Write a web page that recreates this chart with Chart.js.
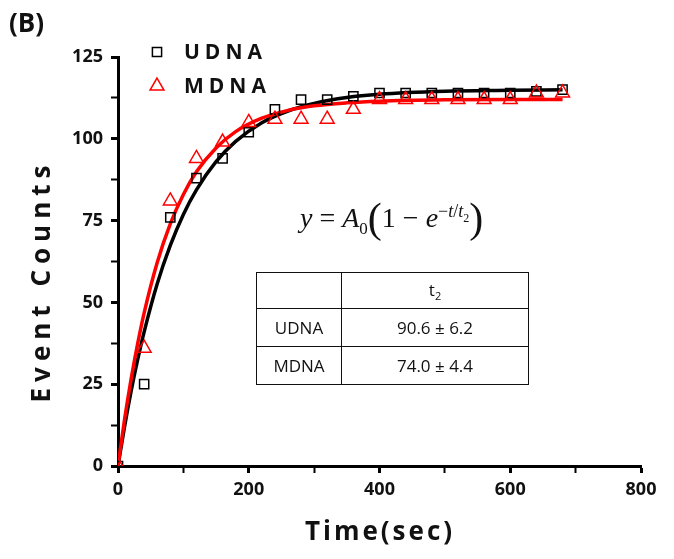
<!DOCTYPE html>
<html>
<head>
  <title>Event Counts vs Time</title>
  <script src="https://cdn.jsdelivr.net/npm/chart.js"></script>
  <style>
    body { margin: 0; background: #fff; }
    #wrap { position: relative; width: 674px; height: 559px; font-family: "Open Sans", sans-serif; }
    .lbl { position: absolute; font-weight: bold; color: #111; white-space: nowrap; }
    #eq { position: absolute; left: 300px; top: 194px; font-family: "Liberation Serif", serif; font-size: 28px; color: #111; white-space: nowrap; }
    #eq .big { font-size: 42px; vertical-align: -5px; }
    #tbl { position: absolute; left: 256px; top: 272px; border-collapse: collapse; font-size: 17px; color: #111; }
    #tbl td { border: 1.5px solid #111; text-align: center; padding: 0; }
  </style>
</head>
<body>
<div id="wrap">
  <canvas id="myChart" width="674" height="559"></canvas>
  <div class="lbl" style="left:9px;top:4px;font-size:26px;">(B)</div>
  <div class="lbl" style="left:40px;top:281px;font-size:26px;letter-spacing:6px;transform:translate(-50%,-50%) rotate(-90deg);">Event Counts</div>
  <div class="lbl" style="left:380px;top:530px;font-size:26px;letter-spacing:3px;transform:translate(-50%,-50%);">Time(sec)</div>
  <div id="eq"><i>y</i> = <i>A</i><sub style="font-size:17px">0</sub><span class="big">(</span>1 &minus; <i>e</i><sup style="font-size:18px">&minus;<i>t</i>/<i>t</i><sub style="font-size:12px">2</sub></sup><span class="big">)</span></div>
  <table id="tbl">
    <tr style="height:36px"><td style="width:84px"></td><td style="width:186px">t<sub style="font-size:11px">2</sub></td></tr>
    <tr style="height:38px"><td>UDNA</td><td>90.6 ± 6.2</td></tr>
    <tr style="height:38px"><td>MDNA</td><td>74.0 ± 4.4</td></tr>
  </table>
</div>

<script>
  const times = [0, 40, 80, 120, 160, 200, 240, 280, 320, 360, 400, 440, 480, 520, 560, 600, 640, 680];
  const udna = [0, 25, 76, 88, 94, 102, 109, 112, 112, 113, 114, 114, 114, 114, 114, 114, 114.5, 115];
  const mdna = [0, 36, 81, 94, 99, 105, 106, 106, 106, 109, 112, 112, 112, 112, 112, 112, 114, 114];

  // fitted curves
  const fitTimes = [0, 10, 20, 30, 40, 60, 80, 100, 120, 150, 180, 220, 260, 300, 350, 400, 500, 600, 680];
  const udnaFit = [0, 12.0, 22.8, 32.4, 41.0, 55.7, 67.4, 76.9, 84.4, 93.0, 99.2, 104.9, 108.5, 110.8, 112.6, 113.6, 114.5, 114.8, 115.0];
  const mdnaFit = [0, 14.2, 26.5, 37.3, 46.8, 62.2, 74.0, 83.0, 89.9, 97.2, 102.2, 106.3, 108.7, 110.1, 111.0, 111.5, 111.9, 112.0, 112.0];

  const xTicks = [0, 200, 400, 600, 800];
  const yTicks = [0, 25, 50, 75, 100, 125];

  const pts = (xs, ys) => xs.map((x, i) => ({ x: x, y: ys[i] }));

  const legendPlugin = {
    id: 'innerLegend',
    afterDraw(chart) {
      const ctx = chart.ctx;
      const items = [
        { ds: chart.data.datasets[2], y: 52 },
        { ds: chart.data.datasets[3], y: 86 }
      ];
      ctx.save();
      items.forEach(it => {
        ctx.strokeStyle = it.ds.borderColor;
        ctx.fillStyle = 'rgba(0,0,0,0)';
        ctx.lineWidth = it.ds.borderWidth;
        Chart.helpers.drawPoint(ctx, {
          pointStyle: it.ds.pointStyle, radius: it.ds.pointRadius, borderWidth: it.ds.borderWidth, rotation: 0
        }, 157, it.y);
        ctx.fillStyle = '#111';
        ctx.font = 'bold 21px "Open Sans"';
        ctx.letterSpacing = '5px';
        ctx.textBaseline = 'middle';
        ctx.fillText(it.ds.label, 184, it.y + 1);
      });
      ctx.restore();
    }
  };

  const ctx = document.getElementById('myChart').getContext('2d');
  const myChart = new Chart(ctx, {
    type: 'scatter',
    data: {
      datasets: [
        {
          label: 'UDNA fit', type: 'line', data: pts(fitTimes, udnaFit),
          borderColor: '#000', borderWidth: 3.5, pointRadius: 0, cubicInterpolationMode: 'monotone', order: 4
        },
        {
          label: 'MDNA fit', type: 'line', data: pts(fitTimes, mdnaFit),
          borderColor: '#ff0000', borderWidth: 3.5, pointRadius: 0, cubicInterpolationMode: 'monotone', order: 3
        },
        {
          label: 'UDNA', data: pts(times, udna), pointStyle: 'rect', pointRadius: 6.5,
          borderColor: '#000', backgroundColor: 'rgba(0,0,0,0)', borderWidth: 1.5, order: 2
        },
        {
          label: 'MDNA', data: pts(times, mdna), pointStyle: 'triangle', pointRadius: 8,
          borderColor: '#ff0000', backgroundColor: 'rgba(0,0,0,0)', borderWidth: 1.5, order: 1
        }
      ]
    },
    options: {
      responsive: false,
      animation: false,
      layout: { padding: { left: 0, right: 33, top: 57, bottom: 0 } },
      plugins: { legend: { display: false }, tooltip: { enabled: false } },
      scales: {
        x: {
          type: 'linear', min: 0, max: 800,
          afterFit: s => { s.height = 93; },
          border: { display: true, color: '#000', width: 3 },
          grid: {
            drawOnChartArea: false, drawTicks: true, tickLength: 7, tickColor: '#000',
            tickWidth: c => (c.tick && xTicks.includes(c.tick.value)) ? 3 : 2
          },
          ticks: {
            stepSize: 100, padding: 6, color: '#111', maxRotation: 0,
            font: { family: 'Open Sans', weight: 'bold', size: 18 },
            callback: v => xTicks.includes(v) ? String(v) : ''
          }
        },
        y: {
          min: 0, max: 125,
          afterFit: s => { s.width = 118; },
          border: { display: true, color: '#000', width: 3 },
          grid: {
            drawOnChartArea: false, drawTicks: true, tickLength: 7, tickColor: '#000',
            tickWidth: c => (c.tick && yTicks.includes(c.tick.value)) ? 3 : 2
          },
          ticks: {
            stepSize: 12.5, padding: 8, color: '#111',
            font: { family: 'Open Sans', weight: 'bold', size: 18 },
            callback: v => yTicks.includes(v) ? String(v) : ''
          }
        }
      }
    },
    plugins: [legendPlugin]
  });
</script>
</body>
</html>
